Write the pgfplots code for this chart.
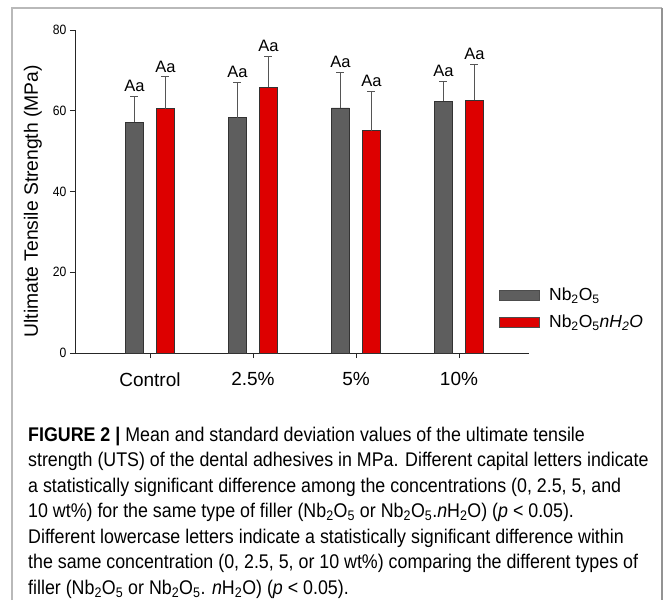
\documentclass[border=0pt]{standalone}
\usepackage{fontspec}
\setmainfont{Liberation Sans}
\newfontfamily\capfont[FakeStretch=0.9]{Liberation Sans}
\usepackage{pgfplots}
\usepackage{pgfplotstable}
\pgfplotsset{compat=1.18}
\definecolor{bargray}{HTML}{5E5E5E}
\definecolor{barred}{HTML}{DD0000}
\definecolor{errgray}{HTML}{555555}
\pgfplotstableread{
x val err
0 57.2 6.3
1 58.3 8.7
2 60.7 8.8
3 62.4 4.8
}\gray
\pgfplotstableread{
x val err
0 60.5 7.9
1 65.8 7.7
2 55.1 9.6
3 62.6 8.8
}\red
\begin{document}
\begin{tikzpicture}[x=1pt,y=1pt]
\useasboundingbox (0,0) rectangle (663,600);
\fill[white] (0,0) rectangle (663,600);
\draw[gray!55, line width=1.5pt] (12,0) -- (12,592) -- (662,592);
\draw[gray!85, line width=1.5pt] (662,592) -- (662,0);
\begin{axis}[
  at={(75pt,247pt)}, anchor=south west,
  scale only axis, width=453.6pt, height=323pt,
  xmin=-0.728, xmax=3.676, ymin=0, ymax=80,
  axis x line*=bottom, axis y line*=left,
  axis line style={black!85, line width=0.8pt, -},
  ybar=13pt, bar width=18pt,
  xtick={0,1,2,3}, xticklabels={Control,2.5\%,5\%,10\%},
  ytick={0,20,40,60,80},
  tick align=outside, major tick length=5pt,
  tick style={black!85, line width=0.8pt},
  xticklabel style={font=\fontsize{19}{22}\selectfont, yshift=-11pt},
  yticklabel style={font=\capfont\fontsize{13.5}{15}\selectfont},
  /pgf/number format/assume math mode=true,
  ylabel={Ultimate Tensile Strength (MPa)},
  ylabel style={font=\fontsize{19.3}{22}\selectfont, at={(axis description cs:-0.093,0.47)}, anchor=center},
  error bars/y dir=plus, error bars/y explicit,
  error bars/error bar style={errgray, line width=1.1pt},
  error bars/error mark options={errgray, rotate=90, line width=1.1pt, mark size=4pt},
  nodes near coords={Aa},
  visualization depends on={\thisrow{err} \as \errv},
  every node near coord/.append style={font=\fontsize{16.5}{18}\selectfont, black, anchor=south, yshift={\errv*4.0375pt+1pt}},
  legend style={draw=none, fill=none, at={(rel axis cs:0.935,0.208)}, anchor=north west,
     font=\fontsize{17.5}{20}\selectfont, inner sep=0pt, row sep=9pt,
     /tikz/every even column/.append style={column sep=0pt}},
  legend cell align=left,
  legend image code/.code={\draw[#1, draw=black!70, line width=0.8pt] (0pt,-5pt) rectangle (40pt,5pt);},
]
\addplot[fill=bargray, draw=black!80, line width=0.6pt] table[x=x, y=val, y error=err] {\gray};
\addplot[fill=barred, draw=black!80, line width=0.6pt] table[x=x, y=val, y error=err] {\red};
\legend{\hspace{7pt}Nb\textsubscript{2}O\textsubscript{5},\hspace{7pt}Nb\textsubscript{2}O\textsubscript{5}\textit{nH\textsubscript{2}O}}
\end{axis}
\begin{scope}[every node/.style={anchor=base west, inner sep=0pt, font=\capfont\fontsize{19.8}{22}\selectfont}]
\node at (28,159) {\textbf{FIGURE 2 |} Mean and standard deviation values of the ultimate tensile};
\node at (28,133.5) {strength (UTS) of the dental adhesives in MPa. Different capital letters indicate};
\node at (28,108) {a statistically significant difference among the concentrations (0, 2.5, 5, and};
\node at (28,82.5) {10 wt\%) for the same type of filler (Nb\textsubscript{2}O\textsubscript{5} or Nb\textsubscript{2}O\textsubscript{5}.\textit{n}H\textsubscript{2}O) (\textit{p} < 0.05).};
\node at (28,57) {Different lowercase letters indicate a statistically significant difference within};
\node at (28,31.5) {the same concentration (0, 2.5, 5, or 10 wt\%) comparing the different types of};
\node at (28,6) {filler (Nb\textsubscript{2}O\textsubscript{5} or Nb\textsubscript{2}O\textsubscript{5}. \textit{n}H\textsubscript{2}O) (\textit{p} < 0.05).};
\end{scope}
\end{tikzpicture}
\end{document}
